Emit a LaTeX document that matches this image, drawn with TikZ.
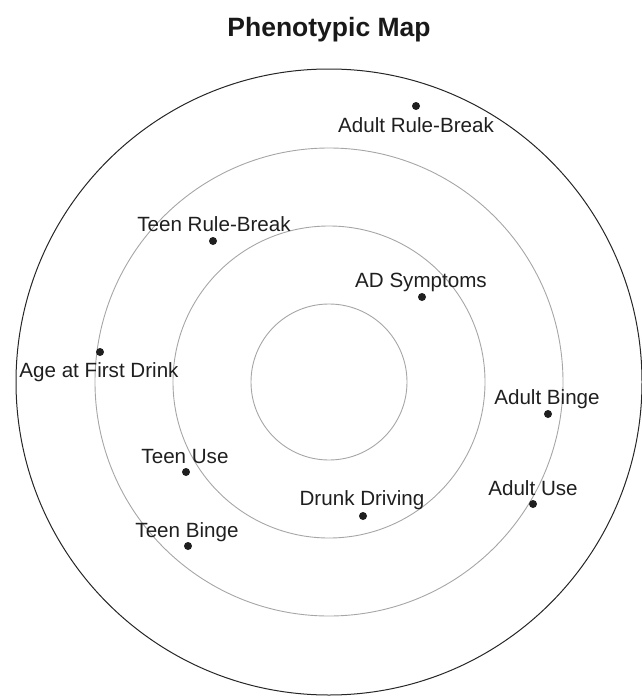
\documentclass[tikz,border=0pt]{standalone}
\usepackage{fontspec}
\setmainfont{Liberation Sans}
\begin{document}
\begin{tikzpicture}[x=1pt,y=-1pt,
  ring/.style={draw=black!35,line width=0.9pt},
  outerring/.style={draw=black!85,line width=1pt},
  dotpt/.style={circle,fill=black!88,inner sep=0pt,minimum size=8pt},
  lbl/.style={anchor=base,inner sep=0pt,text=black!88,font=\fontsize{20.6}{24}\selectfont},
  ttl/.style={anchor=base,inner sep=0pt,text=black!90,font=\fontsize{26.5}{30}\selectfont\bfseries}]
\useasboundingbox (0,0) rectangle (641,696);
\coordinate (c) at (329,382);
\draw[ring] (c) circle[radius=78];
\draw[ring] (c) circle[radius=156];
\draw[ring] (c) circle[radius=234];
\draw[outerring] (c) circle[radius=313];
\node[ttl] (title) at (329,36) {Phenotypic Map};
% dots
\node[dotpt] (arb) at (416,106) {};
\node[dotpt] (trb) at (213,241) {};
\node[dotpt] (ads) at (422,297) {};
\node[dotpt] (afd) at (100,352) {};
\node[dotpt] (ab) at (548,414) {};
\node[dotpt] (tu) at (186,472) {};
\node[dotpt] (au) at (533,504) {};
\node[dotpt] (dd) at (363,516) {};
\node[dotpt] (tb) at (188,546) {};
% labels
\node[lbl] (arbl) at (416,132) {Adult Rule-Break};
\node[lbl] (trbl) at (214,231) {Teen Rule-Break};
\node[lbl] (adsl) at (421,287) {AD Symptoms};
\node[lbl] (afdl) at (99,377) {Age at First Drink};
\node[lbl] (abl) at (547,404) {Adult Binge};
\node[lbl] (tul) at (185,463) {Teen Use};
\node[lbl] (aul) at (533,495) {Adult Use};
\node[lbl] (ddl) at (362,505) {Drunk Driving};
\node[lbl] (tbl) at (187,537) {Teen Binge};
\end{tikzpicture}
\end{document}
